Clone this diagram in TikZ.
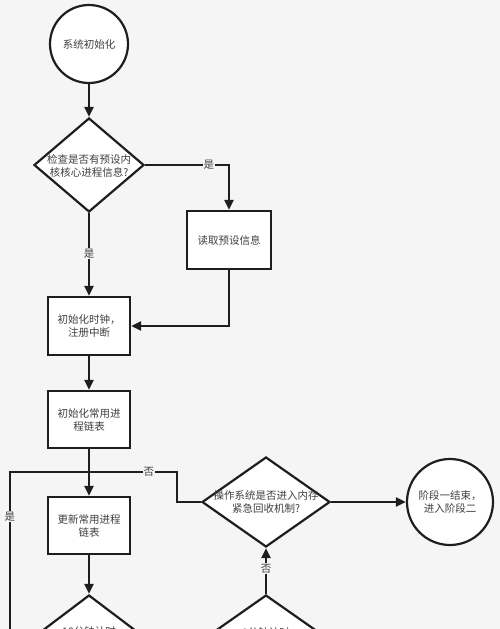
\documentclass[tikz,border=0pt]{standalone}
\usepackage{fontspec}
\setmainfont{Noto Sans CJK SC}
\usetikzlibrary{shapes.geometric,arrows.meta}
\definecolor{bgc}{HTML}{F5F5F5}
\definecolor{ln}{HTML}{1E1E1E}
\definecolor{tx}{HTML}{404040}
\tikzset{
  base/.style={draw=ln, line width=2.2pt, fill=white, inner sep=0pt, font=\fontsize{10.5}{13}\selectfont, text=tx, align=center},
  circ/.style={base, circle},
  procbox/.style={base, rectangle, minimum width=82pt, minimum height=58pt},
  dia/.style={base, diamond},
  conn/.style={draw=ln, line width=2.2pt, line join=miter},
  arr/.style={conn, -{Triangle[length=10pt,width=9pt]}},
  lbl/.style={fill=bgc, inner sep=1pt, text=tx, font=\fontsize{10.5}{12}\selectfont},
  txt/.style={text=tx, inner sep=0pt, font=\fontsize{10.5}{13}\selectfont, align=center}
}
\begin{document}
\begin{tikzpicture}[x=1pt,y=-1pt]
\useasboundingbox (0,0) rectangle (500,629);
\clip (0,0) rectangle (500,629);
\fill[bgc] (0,0) rectangle (500,629);

\node[circ, minimum size=78pt] (start) at (89,44) {系统初始化};
\node[dia, minimum width=110pt, minimum height=94pt] (d1) at (89,165) {};
\node[txt] (d1t) at (89,166) {检查是否有预设内\\核核心进程信息?};
\node[procbox, minimum width=84pt] (read) at (229,240) {读取预设信息};
\node[procbox] (clk) at (89,326) {初始化时钟，\\注册中断};
\node[procbox, minimum height=57pt] (init) at (89,419.5) {初始化常用进\\程链表};
\node[procbox, minimum height=57pt] (upd) at (89,525.5) {更新常用进程\\链表};
\node[dia, minimum width=128pt, minimum height=90pt] (d3) at (266,502) {};
\node[txt] (d3t) at (266,502) {操作系统是否进入内存\\紧急回收机制?};
\node[circ, minimum size=86pt] (end) at (450,502) {阶段一结束，\\进入阶段二};
\node[dia, minimum width=124pt, minimum height=94pt] (d10) at (89,642) {};
\node[txt] (d10t) at (89,632) {10分钟计时};
\node[dia, minimum width=128pt, minimum height=90pt] (d1m) at (266,640) {};
\node[txt] (d1mt) at (266,633) {1分钟计时};

\coordinate (j) at (89,472);
\coordinate (nb) at (177,502);
\coordinate (nt) at (177,472);
\coordinate (lb) at (10,640);
\coordinate (lt) at (10,472);

\draw[arr] (start.south) -- (d1.north);
\draw[arr] (d1.east) -| node[lbl, pos=0.38] {是} (read.north);
\draw[arr] (read.south) |- (clk.east);
\draw[arr] (d1.south) -- node[lbl, pos=0.49] {是} (clk.north);
\draw[arr] (clk.south) -- (init.north);
\draw[arr] (init.south) -- (upd.north);
\draw[arr] (upd.south) -- (d10.north);
\draw[conn] (d3.west) -- (nb) -- (nt) -- node[lbl, pos=0.32] {否} (j);
\draw[conn] (lb) -- node[lbl, pos=0.735] {是} (lt) -- (j);
\draw[arr] (d1m.north) -- node[lbl, pos=0.55] {否} (d3.south);
\draw[arr] (d3.east) -- (end.west);
\end{tikzpicture}
\end{document}
